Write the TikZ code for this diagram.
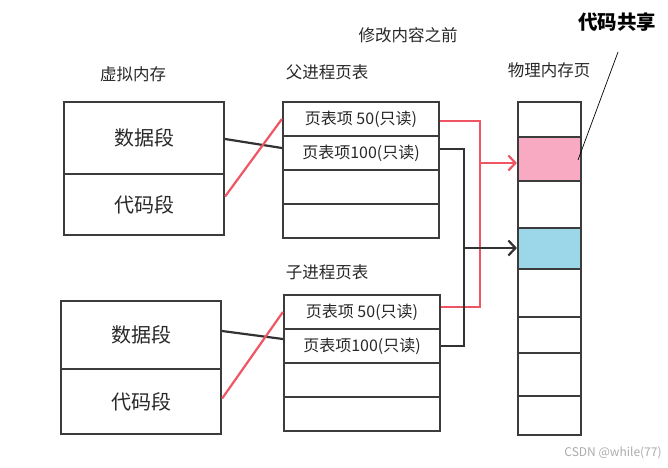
\documentclass[tikz,border=0pt]{standalone}
\usepackage{fontspec}
\newfontfamily\cjk{Noto Sans CJK SC}
\usetikzlibrary{arrows.meta}
\definecolor{boxline}{RGB}{60,60,60}
\definecolor{darkline}{RGB}{50,50,50}
\definecolor{redline}{RGB}{240,85,100}
\definecolor{pinkfill}{RGB}{248,170,195}
\definecolor{bluefill}{RGB}{155,215,232}
\definecolor{txt}{RGB}{40,40,40}
\tikzset{
  cell/.style={draw=boxline, line width=2.2pt, fill=white, inner sep=0pt, anchor=center, text=txt},
  vm/.style={cell, minimum width=160pt, font=\cjk\fontsize{20}{22}\selectfont},
  pt/.style={cell, minimum width=156pt, minimum height=34pt, font=\cjk\fontsize{16}{18}\selectfont},
  pm/.style={cell, minimum width=63pt},
  title/.style={font=\cjk\fontsize{16.5}{18}\selectfont, text=txt, inner sep=0pt},
  blackconn/.style={draw=darkline, line width=2.2pt},
  redconn/.style={draw=redline, line width=2.2pt},
  barb/.style={-{Straight Barb[length=7pt,width=15pt,line width=2.2pt]}},
}
\begin{document}
\begin{tikzpicture}[x=1pt,y=-1pt]
\useasboundingbox (0,0) rectangle (668,467);
% titles
\node[title] (t1) at (408,35) {修改内容之前};
\node[title] (t2) at (133,74) {虚拟内存};
\node[title] (t3) at (327,72) {父进程页表};
\node[title] (t4) at (327,272) {子进程页表};
\node[title] (t5) at (549,70) {物理内存页};
\node[font=\cjk\bfseries\fontsize{19.5}{21}\selectfont, inner sep=0pt] (share) at (617,22) {代码共享};
\node[font=\cjk\fontsize{12}{13}\selectfont, text=black!33, inner sep=0pt] (wm) at (613,453) {CSDN @while(77)};
% parent virtual memory
\node[vm, minimum height=72pt] (vd) at (144,138) {数据段};
\node[vm, minimum height=61pt] (vc) at (144,204.5) {代码段};
% child virtual memory
\node[vm, minimum height=68pt] (cvd) at (141,335) {数据段};
\node[vm, minimum height=65pt] (cvc) at (141,401.5) {代码段};
% parent page table
\node[pt] (p1) at (361,119) {页表项 50(只读)};
\node[pt] (p2) at (361,153) {页表项100(只读)};
\node[pt] (p3) at (361,187) {};
\node[pt] (p4) at (361,221) {};
% child page table
\node[pt] (c1) at (362,312) {页表项 50(只读)};
\node[pt] (c2) at (362,346) {页表项100(只读)};
\node[pt] (c3) at (362,380) {};
\node[pt] (c4) at (362,414) {};
% physical memory
\node[pm, minimum height=35pt] (m1) at (549.5,119.5) {};
\node[pm, minimum height=44pt, fill=pinkfill] (m2) at (549.5,159) {};
\node[pm, minimum height=47pt] (m3) at (549.5,204.5) {};
\node[pm, minimum height=41pt, fill=bluefill] (m4) at (549.5,248.5) {};
\node[pm, minimum height=48pt] (m5) at (549.5,293) {};
\node[pm, minimum height=36pt] (m6) at (549.5,335) {};
\node[pm, minimum height=43pt] (m7) at (549.5,374.5) {};
\node[pm, minimum height=39pt] (m8) at (549.5,415.5) {};
% virtual -> page table
\draw[blackconn] ([yshift=-1pt]vd.east) -- ([yshift=5pt]p2.west);
\draw[redconn] ([yshift=8pt]vc.east) -- (p1.west);
\draw[blackconn] ([yshift=4pt]cvd.east) -- ([yshift=7pt]c2.west);
\draw[redconn] ([yshift=3pt]cvc.east) -- (c1.west);
% page table -> physical
\coordinate (rj) at (480,163);
\coordinate (bj) at (464,248);
\draw[redconn] ([yshift=-2pt]p1.east) -| (rj);
\draw[redconn] ([yshift=5pt]c1.east) -| (rj);
\draw[redconn, barb] (rj) -- (m2.west |- rj);
\draw[blackconn] ([yshift=4pt]p2.east) -| (bj);
\draw[blackconn] (c2.east) -| (bj);
\draw[blackconn, barb] (bj) -- (m4.west |- bj);
% annotation
\coordinate (sa) at (618,52);
\draw[black, line width=0.7pt] (sa) -- (578,160);
\end{tikzpicture}
\end{document}
